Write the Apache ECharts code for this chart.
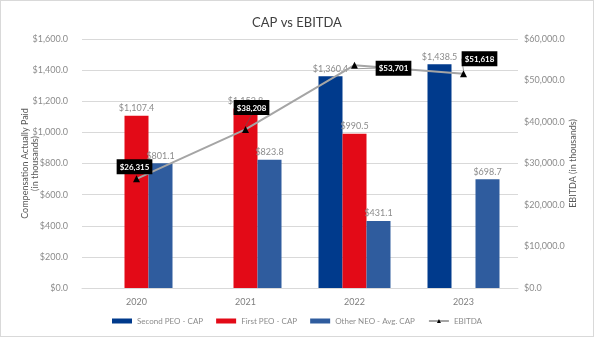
<!DOCTYPE html>
<html>
<head>
<meta charset="utf-8">
<title>CAP vs EBITDA</title>
<script src="https://cdn.jsdelivr.net/npm/echarts@6/dist/echarts.min.js"></script>
<style>
  html, body { margin: 0; padding: 0; background: #fff; }
  #chart { width: 592px; height: 335px; border: 1px solid #d9d9d9; }
</style>
</head>
<body>
<div id="chart"></div>
<script>
// data, in thousands
var years = ['2020', '2021', '2022', '2023'];
var secondPeoCap = [null, null, 1360.4, 1438.5];
var firstPeoCap = [1107.4, 1152.8, 990.5, null];
var otherNeoCap = [801.1, 823.8, 431.1, 698.7];
var ebitda = [26315, 38208, 53701, 51618];

// where each EBITDA tag sits relative to its point
var ebitdaTagShift = [[-2, 4], [6, -6], [39, 19], [16, 1]];

var font = 'Lato, "Open Sans", sans-serif';
var grey = '#8c8c8c';

function money(v, digits) {
  return '$' + Number(v).toLocaleString('en-US', {
    minimumFractionDigits: digits, maximumFractionDigits: digits
  });
}

var barLabel = {
  show: true,
  position: 'top',
  distance: 3,
  color: grey,
  fontSize: 9,
  fontFamily: font,
  formatter: function (p) { return money(p.value, 1); }
};

function barSeries(name, data, color) {
  return {
    name: name,
    type: 'bar',
    data: data,
    barWidth: 24,
    barGap: '0%',
    itemStyle: { color: color },
    label: barLabel
  };
}

var chart = echarts.init(document.getElementById('chart'));
chart.setOption({
  backgroundColor: '#fff',
  animation: false,
  textStyle: { fontFamily: font },
  title: {
    text: 'CAP vs EBITDA',
    left: 'center',
    top: 10,
    textStyle: { fontSize: 13, fontWeight: 'normal', color: '#404040', fontFamily: font }
  },
  legend: {
    bottom: 6,
    left: 'center',
    itemWidth: 20,
    itemHeight: 5,
    itemGap: 13,
    textStyle: { color: grey, fontSize: 8, fontFamily: font },
    data: [
      { name: 'Second PEO - CAP', icon: 'rect' },
      { name: 'First PEO - CAP', icon: 'rect' },
      { name: 'Other NEO - Avg. CAP', icon: 'rect' },
      { name: 'EBITDA' }
    ]
  },
  grid: { left: 81, right: 75, top: 38, bottom: 48, containLabel: false, outerBoundsMode: 'none' },
  xAxis: {
    type: 'category',
    data: years,
    axisLine: { lineStyle: { color: '#d9d9d9' } },
    axisTick: { show: false },
    axisLabel: { color: '#7f7f7f', fontSize: 9, margin: 10 }
  },
  yAxis: [{
    type: 'value',
    min: 0,
    max: 1600,
    interval: 200,
    name: 'Compensation Actually Paid\n(in thousands)',
    nameLocation: 'middle',
    nameGap: 42,
    nameMoveOverlap: false,
    nameTextStyle: { color: '#595959', fontSize: 9, lineHeight: 10 },
    axisLabel: { color: grey, fontSize: 9, margin: 14, formatter: function (v) { return money(v, 1); } },
    splitLine: { lineStyle: { color: '#d9d9d9' } }
  }, {
    type: 'value',
    min: 0,
    max: 60000,
    interval: 10000,
    name: 'EBITDA (in thousands)',
    nameLocation: 'middle',
    nameGap: 51,
    nameMoveOverlap: false,
    nameRotate: 90,
    nameTextStyle: { color: '#595959', fontSize: 9 },
    axisLabel: { color: grey, fontSize: 9, margin: 6, formatter: function (v) { return money(v, 1); } },
    splitLine: { show: false }
  }],
  series: [
    barSeries('Second PEO - CAP', secondPeoCap, '#003a8c'),
    barSeries('First PEO - CAP', firstPeoCap, '#e30a17'),
    barSeries('Other NEO - Avg. CAP', otherNeoCap, '#2f5c9e'),
    {
      name: 'EBITDA',
      type: 'line',
      yAxisIndex: 1,
      data: ebitda,
      symbol: 'triangle',
      symbolSize: 7,
      z: 5,
      lineStyle: { color: '#a5a5a5', width: 2 },
      itemStyle: { color: '#000' },
      label: {
        show: true,
        position: 'top',
        distance: 5,
        backgroundColor: '#000',
        color: '#fff',
        fontWeight: 'bold',
        fontSize: 8,
        padding: [4, 3, 3, 3],
        formatter: function (p) { return money(p.value, 0); }
      },
      labelLine: { show: true, lineStyle: { color: '#595959', width: 0.6 } },
      labelLayout: function (p) {
        var s = ebitdaTagShift[p.dataIndex];
        return { dx: s[0], dy: s[1] };
      }
    }
  ]
});
</script>
</body>
</html>
